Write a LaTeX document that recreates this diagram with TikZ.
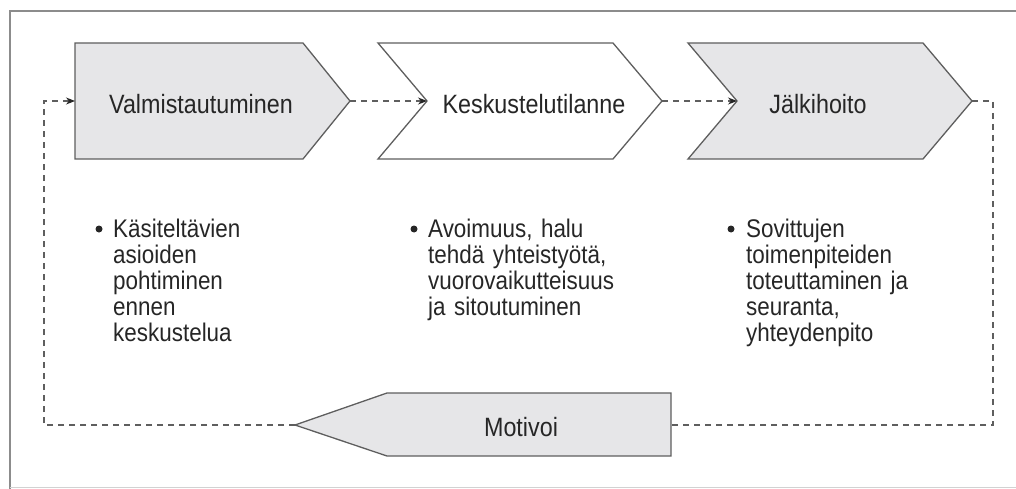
\documentclass[tikz,border=0pt]{standalone}
\usepackage{fontspec}
\setmainfont{Liberation Sans}[FakeStretch=0.88]
\usetikzlibrary{arrows.meta}
\definecolor{shapegray}{HTML}{E6E6E8}
\definecolor{edgegray}{HTML}{5E5E5E}
\definecolor{framegray}{HTML}{8C8C8C}
\definecolor{txtgray}{HTML}{262626}
\tikzset{
  chev/.style={draw=edgegray, line width=1.3pt, line join=miter},
  titletext/.style={text=txtgray, font=\fontsize{26.5}{28}\selectfont, inner sep=0pt},
  bodytext/.style={text=txtgray, font=\fontsize{25.5}{26}\selectfont, inner sep=0pt, align=left, anchor=base west, text width=260pt},
  bulletdot/.style={circle, fill=txtgray, inner sep=0pt, minimum size=7pt},
  flow/.style={draw=edgegray, line width=1.1pt, dash pattern=on 6pt off 5pt},
  tipstyle/.style={-{Stealth[length=9pt,width=7pt,color=black!85]}}
}
\begin{document}
\begin{tikzpicture}[x=1pt,y=-1pt]
\useasboundingbox (0,0) rectangle (1016,489);
% frame
\draw[framegray, line width=1.6pt] (1016,11) -- (10,11) -- (10,489);
\draw[gray!35, line width=0.8pt] (10,487) -- (1016,487);
% chevrons
\draw[chev, fill=shapegray] (75,43) -- (303,43) -- (350,101) -- (303,159) -- (75,159) -- cycle;
\draw[chev, fill=white] (378,43) -- (613,43) -- (662,101) -- (613,159) -- (378,159) -- (427,101) -- cycle;
\draw[chev, fill=shapegray] (688,43) -- (923,43) -- (972,101) -- (923,159) -- (688,159) -- (737,101) -- cycle;
\draw[chev, fill=shapegray] (671,393) -- (387,393) -- (295,425) -- (387,456) -- (671,456) -- cycle;
% named points
\coordinate (in1) at (75,101);
\coordinate (tip1) at (350,101);
\coordinate (in2) at (427,101);
\coordinate (tip2) at (662,101);
\coordinate (in3) at (737,101);
\coordinate (tip3) at (972,101);
\coordinate (motin) at (671,425);
\coordinate (mottip) at (295,425);
\coordinate (cr1) at (993,101);
\coordinate (cr2) at (993,425);
\coordinate (cl1) at (44,425);
\coordinate (cl2) at (44,101);
% titles
\node[titletext] (t1) at (201,104) {Valmistautuminen};
\node[titletext] (t2) at (534,104) {Keskustelutilanne};
\node[titletext] (t3) at (818,104) {Jälkihoito};
\node[titletext] (t4) at (521,427) {Motivoi};
% connectors
\draw[flow, tipstyle] (tip1) -- (in2);
\draw[flow, tipstyle] (tip2) -- (in3);
\draw[flow] (tip3) -- (cr1) -- (cr2) -- (motin);
\draw[flow, tipstyle] (mottip) -- (cl1) -- (cl2) -- (in1);
% bullets
\node[bulletdot] (d1) at (99,229) {};
\node[bodytext] (b1) at (113,237) {Käsiteltävien\\asioiden\\pohtiminen\\ennen\\keskustelua};
\node[bulletdot] (d2) at (414,229) {};
\node[bodytext] (b2) at (428,237) {Avoimuus, halu\\tehdä yhteistyötä,\\vuorovaikutteisuus\\ja sitoutuminen};
\node[bulletdot] (d3) at (731,229) {};
\node[bodytext] (b3) at (746,237) {Sovittujen\\toimenpiteiden\\toteuttaminen ja\\seuranta,\\yhteydenpito};
\end{tikzpicture}
\end{document}
